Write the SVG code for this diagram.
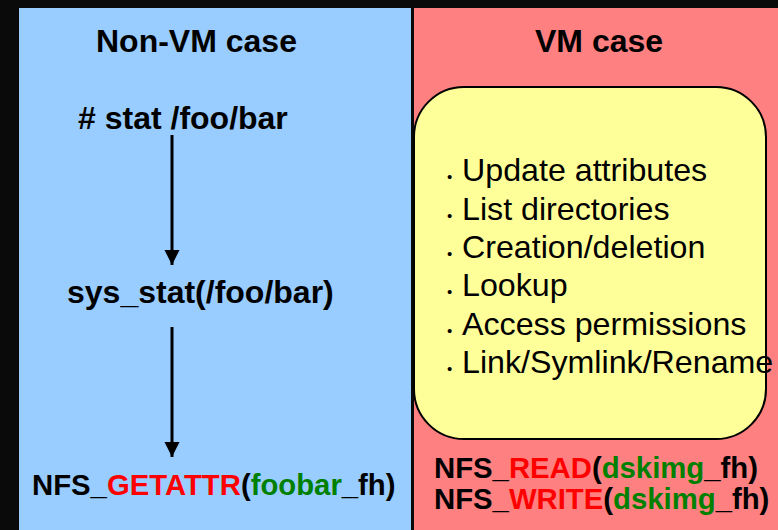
<svg xmlns="http://www.w3.org/2000/svg" width="778" height="530" viewBox="0 0 778 530">
<style>
text{font-family:"Liberation Sans",Arial,sans-serif;fill:#000}
.h{font-size:32px;font-weight:bold}
.n{font-size:29.3px;font-weight:bold}
.li{font-size:32.2px}
.dot{font-size:15px}
.r{fill:#FF0000}
.g{fill:#008000}
.conn{stroke:#000;stroke-width:3;fill:none}
</style>
<defs>
<marker id="ah" markerUnits="userSpaceOnUse" markerWidth="16" markerHeight="16" refX="15" refY="8" orient="auto">
<path d="M0,0.5 L15,8 L0,15.5 Z" fill="#000"/>
</marker>
</defs>
<rect width="778" height="530" fill="#0a0a0a"/>
<g id="left-panel">
<rect x="19" y="8" width="392" height="522" fill="#99CCFF"/>
<text class="h" x="96" y="52">Non-VM case</text>
</g>
<g id="right-panel">
<rect x="414" y="8" width="364" height="522" fill="#FF8080"/>
<text class="h" x="535" y="52">VM case</text>
</g>
<g id="stat">
<text class="h" x="78" y="129"># stat /foo/bar</text>
</g>
<g id="sys_stat">
<text class="h" x="67" y="303">sys_stat(/foo/bar)</text>
</g>
<g id="getattr">
<text class="n" x="32" y="495">NFS_<tspan class="r">GETATTR</tspan>(<tspan class="g">foobar</tspan>_fh)</text>
</g>
<g id="ops-box">
<rect x="414" y="87" width="352" height="352" rx="50" ry="50" fill="#FFFF99" stroke="#000" stroke-width="2"/>
<text class="dot" x="447" y="182">•</text>
<text class="li" x="462" y="181">Update attributes</text>
<text class="dot" x="447" y="221">•</text>
<text class="li" x="462" y="220">List directories</text>
<text class="dot" x="447" y="259">•</text>
<text class="li" x="462" y="258">Creation/deletion</text>
<text class="dot" x="447" y="297">•</text>
<text class="li" x="462" y="296">Lookup</text>
<text class="dot" x="447" y="336">•</text>
<text class="li" x="462" y="335">Access permissions</text>
<text class="dot" x="447" y="374">•</text>
<text class="li" x="462" y="373">Link/Symlink/Rename</text>
</g>
<g id="vm-ops">
<text class="n" x="434" y="478">NFS_<tspan class="r">READ</tspan>(<tspan class="g">dskimg</tspan>_fh)</text>
<text class="n" x="434" y="509">NFS_<tspan class="r">WRITE</tspan>(<tspan class="g">dskimg</tspan>_fh)</text>
</g>
<g id="connectors">
<line class="conn" x1="172" y1="135" x2="172" y2="265" marker-end="url(#ah)"/>
<line class="conn" x1="172" y1="327" x2="172" y2="457" marker-end="url(#ah)"/>
</g>
</svg>
